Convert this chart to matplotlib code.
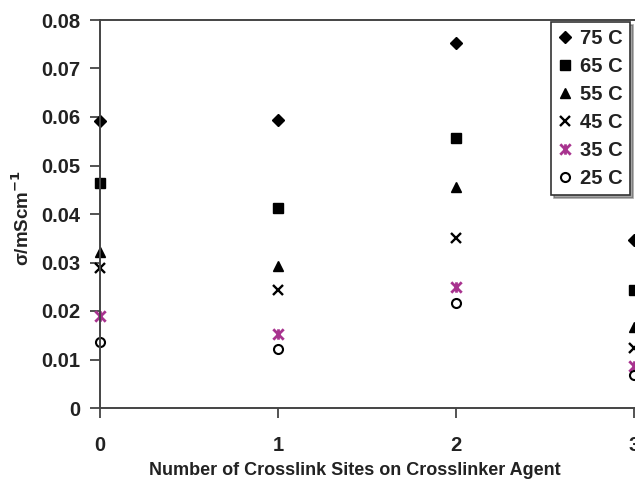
import matplotlib
matplotlib.use("Agg")
import matplotlib.pyplot as plt
from matplotlib.path import Path

plt.rcParams['font.family'] = ['Liberation Sans', 'DejaVu Sans']
plt.rcParams['font.weight'] = 'bold'

# number of crosslink sites
sites = [0, 1, 2, 3]

# conductivity (mS/cm) per temperature
t75 = [0.0592, 0.0593, 0.0752, 0.0346]
t65 = [0.0464, 0.0412, 0.0557, 0.0243]
t55 = [0.0321, 0.0292, 0.0455, 0.0167]
t45 = [0.0289, 0.0243, 0.0351, 0.0124]
t35 = [0.0190, 0.0152, 0.0249, 0.0086]
t25 = [0.0136, 0.0122, 0.0217, 0.0068]

labels = ['75 C', '65 C', '55 C', '45 C', '35 C', '25 C']

# excel-like "star": an x with a vertical stroke through it
star = Path([(-1, -1), (1, 1), (-1, 1), (1, -1), (0, -1), (0, 1)],
            [Path.MOVETO, Path.LINETO, Path.MOVETO, Path.LINETO,
             Path.MOVETO, Path.LINETO])

purple = '#a8338f'
styles = [
    dict(marker='D', ms=6, color='black'),
    dict(marker='s', ms=7, color='black'),
    dict(marker='^', ms=7.5, color='black'),
    dict(marker='x', ms=7.5, color='black', mew=1.7),
    dict(marker=star, ms=7.5, color=purple, mew=2.0),
    dict(marker='o', ms=6.5, mfc='white', mec='black', mew=1.5, color='black'),
]

fig = plt.figure(figsize=(6.35, 4.82), dpi=100)
W, H = 635, 482
x0_px, top_px, bot_px = 100, 20, 408
unit_px = 178
xmax = 3.3
ax = fig.add_axes([x0_px / W, 1 - bot_px / H, xmax * unit_px / W, (bot_px - top_px) / H])

for ys, lab, st in zip([t75, t65, t55, t45, t35, t25], labels, styles):
    ax.plot(sites, ys, linestyle='none', label=lab, clip_on=False, **st)

ax.set_xlim(0, xmax)
ax.set_ylim(0, 0.08)
ax.set_xticks(sites)
ax.set_yticks([0, 0.01, 0.02, 0.03, 0.04, 0.05, 0.06, 0.07, 0.08])
ax.set_yticklabels(['0', '0.01', '0.02', '0.03', '0.04', '0.05', '0.06', '0.07', '0.08'])
ax.tick_params(labelsize=14.5, length=7, width=1.3, color='#444444', pad=7, labelcolor='#222222')
ax.tick_params(axis='x', pad=13)
for s in ax.spines.values():
    s.set_color('#444444')
    s.set_linewidth(1.4)

ax.set_xlabel('Number of Crosslink Sites on Crosslinker Agent', fontsize=13,
              fontweight='bold', color='#222222')
ax.xaxis.set_label_coords(355 / W, 1 - 462 / H, transform=fig.transFigure)
ax.set_ylabel(r'σ/mScm$^{\mathbf{-1}}$', fontsize=13.5, fontweight='bold', color='#222222')
ax.yaxis.set_label_coords(33 / W, 1 - 218 / H, transform=fig.transFigure)

leg = ax.legend(loc='upper right', bbox_to_anchor=(630 / W, 1 - 22 / H),
                bbox_transform=fig.transFigure, borderaxespad=0,
                fontsize=14.5, frameon=True, fancybox=False, shadow=True,
                handlelength=0.7, handletextpad=0.4, labelspacing=0.45,
                borderpad=0.35, numpoints=1)
leg.get_frame().set_edgecolor('#333333')
leg.get_frame().set_linewidth(1.2)
for t in leg.get_texts():
    t.set_color('#222222')

fig.savefig('out.png', dpi=100)
